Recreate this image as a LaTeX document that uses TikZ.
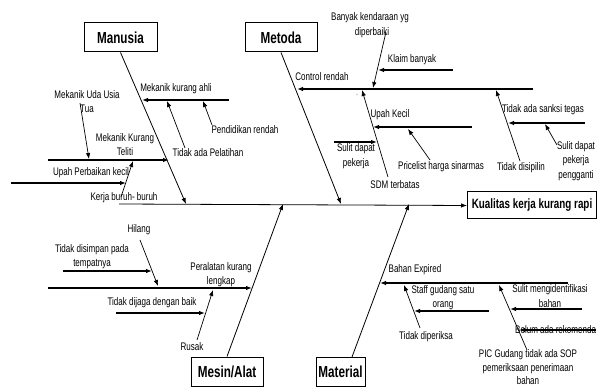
\documentclass[tikz,border=0pt]{standalone}
\usepackage{fontspec}
\setmainfont{Liberation Sans}[FakeStretch=0.73]
\usetikzlibrary{arrows.meta}
\begin{document}
\begin{tikzpicture}[x=1pt,y=-1pt,
  lbl/.style={font=\fontsize{11}{14.5}\selectfont, inner sep=0pt, align=center},
  box/.style={draw, line width=1pt, font=\bfseries\fontsize{16}{18}\selectfont, minimum height=29pt, inner sep=0pt},
  bone/.style={line width=0.8pt, -{Latex[length=6pt,width=4.5pt]}},
  br/.style={line width=1.1pt, -{Latex[length=6pt,width=4.5pt]}},
  dg/.style={line width=0.7pt, -{Latex[length=6pt,width=4.5pt]}},
]
\useasboundingbox (0,0) rectangle (597,387);
\clip (0,0) rectangle (597,387);

% category boxes
\node[box, minimum width=73pt] (man) at (120.5,37.5) {Manusia};
\node[box, minimum width=72pt] (met) at (281,37.5) {Metoda};
\node[box, minimum width=72pt] (mes) at (227,371.5) {Mesin/Alat};
\node[box, minimum width=49pt] (mat) at (340.5,371.5) {Material};
\node[box, minimum width=129pt, minimum height=27pt, font=\bfseries\fontsize{13.5}{15}\selectfont] (res) at (532,205.5) {Kualitas kerja kurang rapi};

% spine and bones
\coordinate (s0) at (119,204);
\draw[bone] (s0) -- (res.west);
\coordinate (manE) at (186,204);
\coordinate (metE) at (341,204);
\coordinate (mesE) at (283,204);
\coordinate (matS) at (352,357);
\coordinate (matE) at (409,204);
\draw[bone] (man.south) -- (manE);
\draw[bone] (met.south) -- (metE);
\draw[bone] (mes.north) -- (mesE);
\draw[bone] (matS) -- (matE);

% ---------- Manusia ----------
\coordinate (a1s) at (229,100); \coordinate (a1e) at (142,100);
\draw[br] (a1s) -- (a1e);
\node[lbl] (t1) at (176,89) {Mekanik kurang ahli};
\coordinate (a2s) at (212,125); \coordinate (a2e) at (203,101);
\draw[dg] (a2s) -- (a2e);
\node[lbl] (t2) at (245,130) {Pendidikan rendah};
\coordinate (a3s) at (185,148); \coordinate (a3e) at (167,101);
\draw[dg] (a3s) -- (a3e);
\node[lbl] (t3) at (208,153) {Tidak ada Pelatihan};
\coordinate (a4s) at (48,160); \coordinate (a4e) at (169,160);
\draw[br] (a4s) -- (a4e);
\node[lbl] (t4) at (125,144.5) {Mekanik Kurang\\Teliti};
\coordinate (a5s) at (80,103); \coordinate (a5e) at (89,159);
\draw[dg] (a5s) -- (a5e);
\node[lbl] (t5) at (87,101.5) {Mekanik Uda Usia\\Tua};
\coordinate (a6s) at (121,197); \coordinate (a6e) at (133,161);
\draw[dg] (a6s) -- (a6e);
\node[lbl] (t6) at (124,198) {Kerja buruh- buruh};
\coordinate (a7s) at (11,183); \coordinate (a7e) at (126,183);
\draw[br] (a7s) -- (a7e);
\node[lbl] (t7) at (91,173) {Upah Perbaikan kecil};

% ---------- Metoda ----------
\coordinate (b1s) at (533,89); \coordinate (b1e) at (297,89);
\draw[br] (b1s) -- (b1e);
\node[lbl] (u1) at (322,77) {Control rendah};
\coordinate (b2s) at (386,32); \coordinate (b2e) at (373,88);
\draw[dg] (b2s) -- (b2e);
\node[lbl] (u2) at (370,25) {Banyak kendaraan yg\\\hspace*{4pt}diperbaiki};
\coordinate (b3s) at (453,70); \coordinate (b3e) at (378,70);
\draw[br] (b3s) -- (b3e);
\node[lbl] (u3) at (412,60) {Klaim banyak};
\coordinate (b4s) at (388,177); \coordinate (b4e) at (362,90);
\draw[dg] (b4s) -- (b4e);
\node[lbl] (u4) at (395,185) {SDM terbatas};
\node[font=\fontsize{6}{6}\selectfont, inner sep=0pt] (tick) at (357,96) {'};
\coordinate (b5s) at (334,142); \coordinate (b5e) at (377,142);
\draw[br] (b5s) -- (b5e);
\node[lbl] (u5) at (356,156) {Sulit dapat\\pekerja};
\coordinate (b6s) at (472,127); \coordinate (b6e) at (373,127);
\draw[br] (b6s) -- (b6e);
\node[lbl] (u6) at (390,115) {Upah Kecil};
\coordinate (b7s) at (430,160); \coordinate (b7e) at (408,129);
\draw[dg] (b7s) -- (b7e);
\node[lbl] (u7) at (441,167) {Pricelist harga sinarmas};
\coordinate (b8s) at (520,161); \coordinate (b8e) at (496,90);
\draw[dg] (b8s) -- (b8e);
\node[lbl] (u8) at (521,168) {Tidak disipilin};
\coordinate (b9s) at (585,123); \coordinate (b9e) at (508,123);
\draw[br] (b9s) -- (b9e);
\node[lbl] (u9) at (543,110) {Tidak ada sanksi tegas};
\coordinate (b10s) at (557,145); \coordinate (b10e) at (545,124);
\draw[dg] (b10s) -- (b10e);
\node[lbl] (u10) at (576,161) {Sulit dapat\\pekerja\\pengganti};

% ---------- Mesin/Alat ----------
\coordinate (c1s) at (48,288); \coordinate (c1e) at (252,288);
\draw[br] (c1s) -- (c1e);
\node[lbl] (v1) at (221,274.5) {Peralatan kurang\\lengkap};
\coordinate (c2s) at (140,240); \coordinate (c2e) at (158,286);
\draw[dg] (c2s) -- (c2e);
\node[lbl] (v2) at (139,230) {Hilang};
\coordinate (c3s) at (63,271); \coordinate (c3e) at (152,271);
\draw[br] (c3s) -- (c3e);
\node[lbl] (v3) at (92,256.5) {Tidak disimpan pada\\tempatnya};
\coordinate (c4s) at (116,313); \coordinate (c4e) at (205,313);
\draw[br] (c4s) -- (c4e);
\node[lbl] (v4) at (152,303) {Tidak dijaga dengan baik};
\coordinate (c5s) at (197,340); \coordinate (c5e) at (213,290);
\draw[dg] (c5s) -- (c5e);
\node[lbl] (v5) at (192,347) {Rusak};

% ---------- Material ----------
\coordinate (d1s) at (568,283); \coordinate (d1e) at (380,283);
\draw[br] (d1s) -- (d1e);
\node[lbl] (w1) at (415,270) {Bahan Expired};
\coordinate (d2s) at (489,311); \coordinate (d2e) at (414,311);
\draw[br] (d2s) -- (d2e);
\node[lbl] (w2) at (443,297.5) {Staff gudang satu\\orang};
\coordinate (d3s) at (420,328); \coordinate (d3e) at (404,285);
\draw[dg] (d3s) -- (d3e);
\node[lbl] (w3) at (426,337) {Tidak diperiksa};
\coordinate (d4s) at (582,309); \coordinate (d4e) at (510,309);
\draw[br] (d4s) -- (d4e);
\node[lbl] (w4) at (550,296) {Sulit mengidentifikasi\\bahan};
\coordinate (d5s) at (596,330); \coordinate (d5e) at (519,330);
\draw[br] (d5s) -- (d5e);
\node[lbl, anchor=west] (w5) at (515,330) {Belum ada rekomenda};
\coordinate (d6s) at (527,350); \coordinate (d6e) at (499,285);
\draw[dg] (d6s) -- (d6e);
\node[lbl, font=\fontsize{11}{13.5}\selectfont] (w6) at (528,367.5) {PIC Gudang tidak ada SOP\\pemeriksaan penerimaan\\bahan};
\end{tikzpicture}
\end{document}
